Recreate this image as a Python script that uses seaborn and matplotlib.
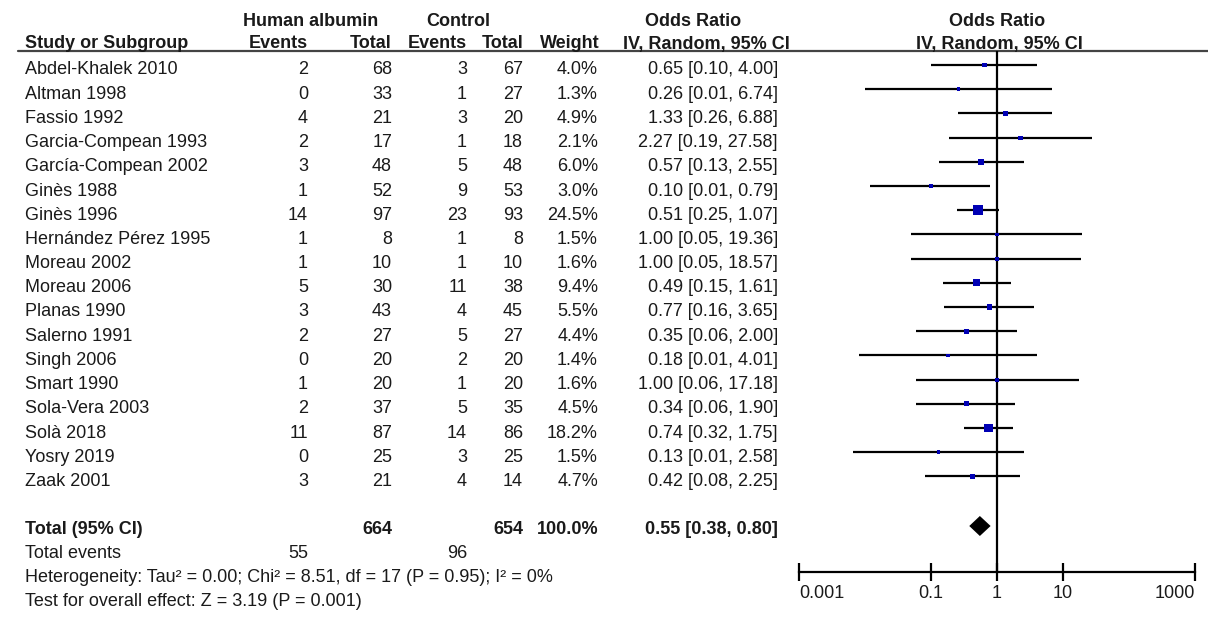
import numpy as np
import pandas as pd
import seaborn as sns
import matplotlib.pyplot as plt

studies = ["Abdel-Khalek 2010", "Altman 1998", "Fassio 1992", "Garcia-Compean 1993",
           "García-Compean 2002", "Ginès 1988", "Ginès 1996", "Hernández Pérez 1995",
           "Moreau 2002", "Moreau 2006", "Planas 1990", "Salerno 1991", "Singh 2006",
           "Smart 1990", "Sola-Vera 2003", "Solà 2018", "Yosry 2019", "Zaak 2001"]
ha_events = [2, 0, 4, 2, 3, 1, 14, 1, 1, 5, 3, 2, 0, 1, 2, 11, 0, 3]
ha_total = [68, 33, 21, 17, 48, 52, 97, 8, 10, 30, 43, 27, 20, 20, 37, 87, 25, 21]
ctrl_events = [3, 1, 3, 1, 5, 9, 23, 1, 1, 11, 4, 5, 2, 1, 5, 14, 3, 4]
ctrl_total = [67, 27, 20, 18, 48, 53, 93, 8, 10, 38, 45, 27, 20, 20, 35, 86, 25, 14]
weight = [4.0, 1.3, 4.9, 2.1, 6.0, 3.0, 24.5, 1.5, 1.6, 9.4, 5.5, 4.4, 1.4, 1.6, 4.5, 18.2, 1.5, 4.7]
odds = [0.65, 0.26, 1.33, 2.27, 0.57, 0.10, 0.51, 1.00, 1.00, 0.49, 0.77, 0.35, 0.18, 1.00, 0.34, 0.74, 0.13, 0.42]
ci_low = [0.10, 0.010, 0.26, 0.19, 0.13, 0.012, 0.25, 0.05, 0.05, 0.15, 0.16, 0.06, 0.008, 0.06, 0.06, 0.32, 0.0065, 0.08]
ci_high = [4.00, 6.74, 6.88, 27.58, 2.55, 0.79, 1.07, 19.36, 18.57, 1.61, 3.65, 2.00, 4.01, 17.18, 1.90, 1.75, 2.58, 2.25]

total_ha, total_ctrl = 664, 654
events_ha, events_ctrl = 55, 96
pooled = 0.55
pooled_low, pooled_high = 0.38, 0.80
tick_vals = [0.001, 0.1, 1, 10, 1000]
tick_labels = ["0.001", "0.1", "1", "10", "1000"]

df = pd.DataFrame({"study": studies, "or": odds, "lo": ci_low, "hi": ci_high,
                   "weight": weight, "row": np.arange(len(studies))})

sns.set_style("white")
plt.rcParams["font.family"] = ["Liberation Sans", "DejaVu Sans"]

W, H = 1208, 617
fig = plt.figure(figsize=(W / 100, H / 100), dpi=100)

# text layer in pixel coordinates
bg = fig.add_axes([0, 0, 1, 1])
bg.set_xlim(0, W)
bg.set_ylim(H, 0)
bg.axis("off")

fs = 13
tc = "#1a1a1a"
row0, step = 70, 24.2


def put(x, y, s, ha="right", bold=False):
    bg.text(x, y, s, ha=ha, va="center", fontsize=fs, color=tc,
            fontweight="bold" if bold else "normal")


# headers
put(311, 21, "Human albumin", "center", True)
put(458, 21, "Control", "center", True)
put(693, 21, "Odds Ratio", "center", True)
put(997, 21, "Odds Ratio", "center", True)
hy = 44
put(25, hy, "Study or Subgroup", "left", True)
put(308, hy, "Events", bold=True)
put(392, hy, "Total", bold=True)
put(467, hy, "Events", bold=True)
put(523, hy, "Total", bold=True)
put(600, hy, "Weight", bold=True)
put(790, hy, "IV, Random, 95% CI", bold=True)
put(999, hy, "IV, Random, 95% CI", "center", True)
bg.plot([18, W], [51, 51], color="#444444", lw=1.6)

for i, s in enumerate(studies):
    y = row0 + step * i
    put(25, y, s, "left")
    put(308, y, str(ha_events[i]))
    put(392, y, str(ha_total[i]))
    put(467, y, str(ctrl_events[i]))
    put(523, y, str(ctrl_total[i]))
    put(598, y, f"{weight[i]:.1f}%")
    put(778, y, f"{odds[i]:.2f} [{ci_low[i]:.2f}, {ci_high[i]:.2f}]")

ty = 529
put(25, ty, "Total (95% CI)", "left", True)
put(392, ty, str(total_ha), bold=True)
put(523, ty, str(total_ctrl), bold=True)
put(598, ty, "100.0%", bold=True)
put(778, ty, f"{pooled:.2f} [{pooled_low:.2f}, {pooled_high:.2f}]", bold=True)
put(25, 554, "Total events", "left")
put(308, 554, str(events_ha))
put(467, 554, str(events_ctrl))
put(25, 578, "Heterogeneity: Tau² = 0.00; Chi² = 8.51, df = 17 (P = 0.95); I² = 0%", "left")
put(25, 602, "Test for overall effect: Z = 3.19 (P = 0.001)", "left")

# forest panel
x0, x1 = 799, 1195
top, bot = 51, 572
ax = fig.add_axes([x0 / W, (H - bot) / H, (x1 - x0) / W, (bot - top) / H])
line0 = 65
ax.set_ylim((bot - line0) / step, (top - line0) / step)
ax.set_xscale("log")
ax.set_xlim(0.001, 1000)
ax.patch.set_alpha(0)

ax.hlines(df["row"], df["lo"], df["hi"], color="black", lw=1.6)
sns.scatterplot(data=df, x="or", y="row", size="weight", sizes=(7, 55),
                size_norm=(min(weight), max(weight)), marker="s", color="#0000b4",
                linewidth=0, legend=False, ax=ax, zorder=3)
ax.axvline(1, color="black", lw=1.6)

yd = (526 - line0) / step
hh = 10 / step
ax.fill([pooled_low, pooled, pooled_high, pooled], [yd, yd - hh, yd, yd + hh],
        color="black", lw=0, zorder=4)

for sp in ["top", "left", "right"]:
    ax.spines[sp].set_visible(False)
ax.spines["bottom"].set_linewidth(1.6)
ax.spines["bottom"].set_color("black")
ax.set_yticks([])
ax.set_xticks(tick_vals)
ax.set_xticklabels(tick_labels)
ax.minorticks_off()
ax.tick_params(axis="x", bottom=True, direction="inout", length=13, width=1.6,
               labelsize=fs, pad=3, colors="black", labelcolor=tc)
labs = ax.get_xticklabels()
labs[0].set_horizontalalignment("left")
labs[-1].set_horizontalalignment("right")
ax.set_xlabel("")
ax.set_ylabel("")

fig.savefig("out.png", dpi=100)
